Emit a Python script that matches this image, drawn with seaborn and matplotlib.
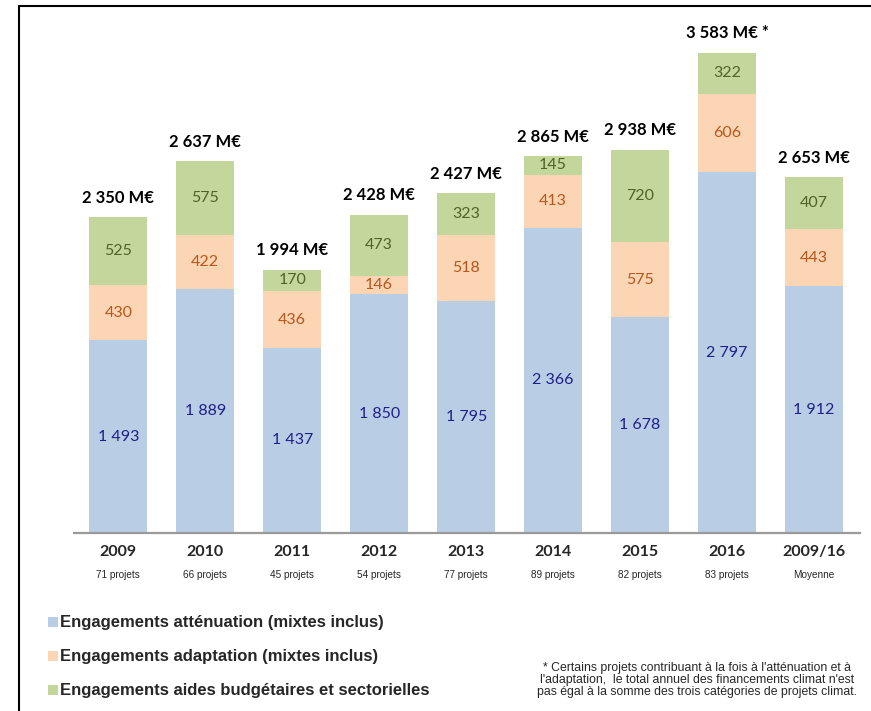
"""Financements climat par année - barres empilées
"""

import numpy as np
import pandas as pd
import matplotlib
matplotlib.use("Agg")
import matplotlib.pyplot as plt
from matplotlib.lines import Line2D
from matplotlib.patches import Rectangle
import seaborn as sns

# Data
years = ["2009", "2010", "2011", "2012", "2013", "2014", "2015", "2016", "2009/16"]
sub_labels = ["71 projets", "66 projets", "45 projets", "54 projets", "77 projets",
              "89 projets", "82 projets", "83 projets", "Moyenne"]
attenuation = [1493, 1889, 1437, 1850, 1795, 2366, 1678, 2797, 1912]
adaptation = [430, 422, 436, 146, 518, 413, 575, 606, 443]
aides = [525, 575, 170, 473, 323, 145, 720, 322, 407]
totals = ["2 350 M€", "2 637 M€", "1 994 M€", "2 428 M€", "2 427 M€",
          "2 865 M€", "2 938 M€", "3 583 M€ *", "2 653 M€"]
legend_labels = [
    "Engagements atténuation (mixtes inclus)",
    "Engagements adaptation (mixtes inclus)",
    "Engagements aides budgétaires et sectorielles",
]
note = ("* Certains projets contribuant à la fois à l'atténuation et à\n"
        "l'adaptation,  le total annuel des financements climat n'est\n"
        "pas égal à la somme des trois catégories de projets climat.")

colors = ["#B9CDE5", "#FCD5B5", "#C3D69B"]
text_colors = ["#1F1F8C", "#B8561B", "#4F6228"]

df = pd.DataFrame({"Year": years, "att": attenuation, "ada": adaptation, "aid": aides})
df["b2"] = df["att"]
df["b3"] = df["att"] + df["ada"]

sns.set_style("white")
plt.rcParams["font.family"] = ["Lato", "DejaVu Sans"]

fig = plt.figure(figsize=(8.71, 7.11), dpi=100)
ax = fig.add_axes([74 / 871, 178 / 711, 786 / 871, 503 / 711])

w = 0.67
sns.barplot(x="Year", y="att", data=df, color=colors[0], width=w, ax=ax,
            saturation=1, order=years, linewidth=0)
sns.barplot(x="Year", y="ada", data=df, color=colors[1], width=w, ax=ax,
            saturation=1, order=years, bottom=df["b2"].values, linewidth=0)
sns.barplot(x="Year", y="aid", data=df, color=colors[2], width=w, ax=ax,
            saturation=1, order=years, bottom=df["b3"].values, linewidth=0)

ax.set_xlim(-0.51, 8.53)
ax.set_ylim(0, 3900)

# segment value labels
fmt = lambda v: f"{v:,}".replace(",", " ")
for i in range(len(years)):
    segs = [(0, attenuation[i]), (df["b2"][i], adaptation[i]), (df["b3"][i], aides[i])]
    for k, (b, h) in enumerate(segs):
        ax.text(i, b + h / 2, fmt(h), ha="center", va="center",
                fontsize=11.5, color=text_colors[k])
    top = df["b3"][i] + aides[i]
    ax.annotate(totals[i], (i, top), xytext=(0, 8), textcoords="offset points",
                ha="center", va="bottom", fontsize=12, fontweight="bold", color="black")

# x labels: year + number of projects
ax.set_xticks(range(len(years)))
ax.set_xticklabels([])
ax.tick_params(axis="x", length=0)
ax.set_yticks([])
ax.set_xlabel("")
ax.set_ylabel("")
for i, (y, s) in enumerate(zip(years, sub_labels)):
    ax.annotate(y, (i, 0), xytext=(0, -14), textcoords="offset points",
                ha="center", va="center", fontsize=11.5, fontweight="bold")
    ax.annotate(s, (i, 0), xytext=(0, -30), textcoords="offset points",
                ha="center", va="center", fontsize=7.2, family=["Liberation Sans"])

for sp in ["top", "right", "left"]:
    ax.spines[sp].set_visible(False)
ax.spines["bottom"].set_color("#9A9A9A")
ax.spines["bottom"].set_linewidth(1.6)

# legend drawn as figure text
for k, lab in enumerate(legend_labels):
    ypix = 622 + 34 * k
    fig.add_artist(Rectangle((48 / 871, 1 - (ypix + 5) / 711), 10 / 871, 10 / 711,
                             transform=fig.transFigure, color=colors[k], lw=0))
    fig.text(60 / 871, 1 - ypix / 711, lab, ha="left", va="center", fontsize=12,
             fontweight="bold", family=["Liberation Sans"])

fig.text(697 / 871, 1 - 680 / 711, note, ha="center", va="center", fontsize=8.8,
         family=["Liberation Sans"], linespacing=1.0)

# outer frame
fig.add_artist(Line2D([19 / 871, 1], [1 - 6 / 711, 1 - 6 / 711], color="black", lw=1.5,
                      transform=fig.transFigure))
fig.add_artist(Line2D([19 / 871, 19 / 871], [0, 1 - 6 / 711], color="black", lw=1.5,
                      transform=fig.transFigure))

plt.savefig("out.png", dpi=100)
